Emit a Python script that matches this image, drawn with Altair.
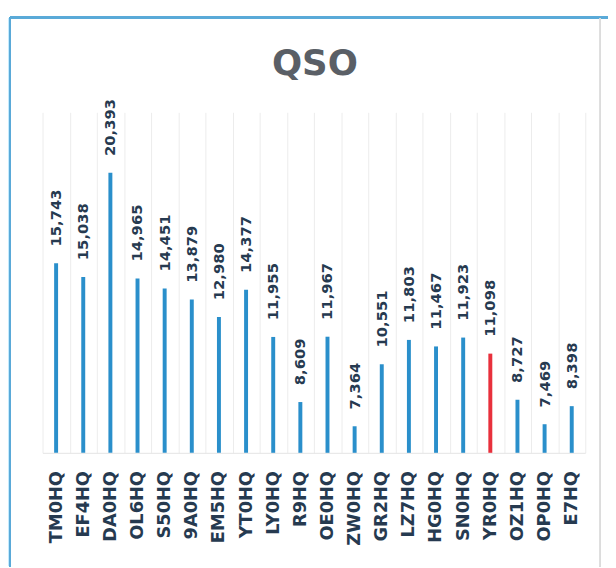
import altair as alt
import pandas as pd

stations = ["TM0HQ", "EF4HQ", "DA0HQ", "OL6HQ", "S50HQ", "9A0HQ", "EM5HQ", "YT0HQ",
            "LY0HQ", "R9HQ", "OE0HQ", "ZW0HQ", "GR2HQ", "LZ7HQ", "HG0HQ", "SN0HQ",
            "YR0HQ", "OZ1HQ", "OP0HQ", "E7HQ"]
qso = [15743, 15038, 20393, 14965, 14451, 13879, 12980, 14377,
       11955, 8609, 11967, 7364, 10551, 11803, 11467, 11923,
       11098, 8727, 7469, 8398]
highlight = ["YR0HQ"]
title_text = "QSO"

df = pd.DataFrame({"station": stations, "qso": qso})
df["hl"] = df["station"].isin(highlight).map({True: "yes", False: "no"})
df["label"] = df["qso"].map(lambda v: f"{v:,}")

W, H = 550, 345
LEFT, TOP = 35, 102

x = alt.X("station:N", sort=stations, title=None,
          scale=alt.Scale(paddingInner=0, paddingOuter=0),
          axis=alt.Axis(labelAngle=-90, labelFont="DejaVu Sans", labelFontWeight="bold",
                        labelFontSize=18, labelColor="#263a50", labelPadding=18,
                        ticks=False, tickBand="extent", grid=True, gridColor="#ececec",
                        gridWidth=1, domain=True, domainColor="#e4e4e4"))
y = alt.Y("qso:Q", axis=None, scale=alt.Scale(domain=[6000, 23500], zero=False))

base = alt.Chart(df)

bars = base.mark_bar(size=4).encode(
    x=x, y=y, y2=alt.Y2(datum=6000),
    color=alt.Color("hl:N", scale=alt.Scale(domain=["no", "yes"], range=["#2a8fcb", "#e8303c"]),
                    legend=None),
)

labels = base.mark_text(angle=270, align="left", baseline="middle", dx=17,
                        font="DejaVu Sans", fontWeight="bold", fontSize=15,
                        color="#263a50").encode(x=x, y=y, text="label:N")

frame_left = alt.Chart(df).mark_rule(color="#5aaad8", strokeWidth=2, clip=False).encode(
    x=alt.value(-33), y=alt.value(-96), y2=alt.value(460))
frame_top = alt.Chart(df).mark_rule(color="#5aaad8", strokeWidth=2, clip=False).encode(
    x=alt.value(-33), x2=alt.value(575), y=alt.value(-96))
frame_right = alt.Chart(df).mark_rule(color="#dcdcdc", strokeWidth=1, clip=False).encode(
    x=alt.value(565), y=alt.value(-95), y2=alt.value(460))

title = alt.Chart(pd.DataFrame({"t": [title_text]})).mark_text(
    font="DejaVu Sans", fontSize=36, fontWeight="bold", color="#5a5f66",
    align="center", baseline="alphabetic").encode(
    x=alt.value(276), y=alt.value(-38), text="t:N")

chart = alt.layer(frame_left, frame_top, frame_right, title, bars, labels).properties(
    width=W, height=H,
    autosize=alt.AutoSizeParams(type="none"),
    padding={"left": LEFT, "top": TOP, "right": 608 - LEFT - W, "bottom": 560 - TOP - H},
).configure_view(stroke=None)

chart.save("out.html", embed_options={"renderer": "svg", "actions": False})
